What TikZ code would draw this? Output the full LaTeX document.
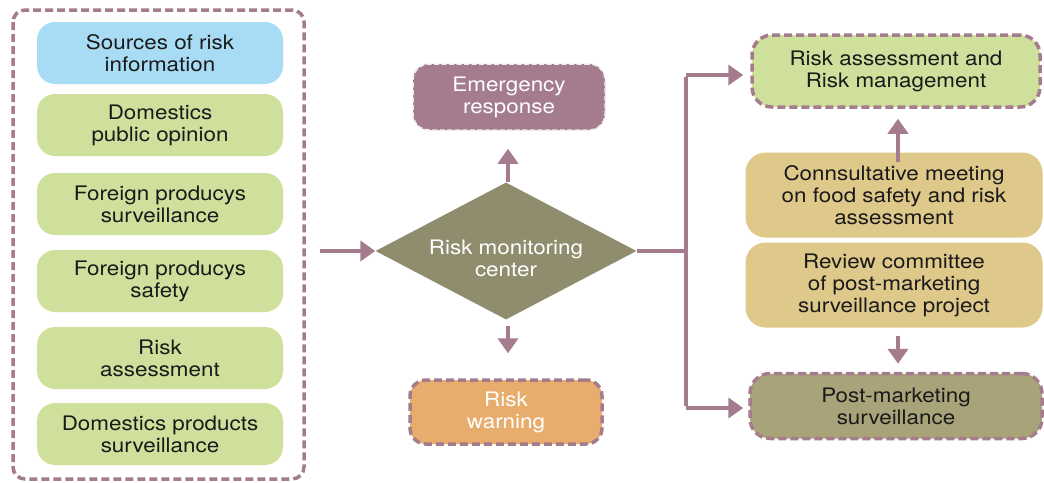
\documentclass[tikz,border=0pt]{standalone}
\usepackage{fontspec}
\setmainfont[FakeStretch=1.12]{TeX Gyre Heros}
\usetikzlibrary{shapes.geometric,arrows.meta}
\definecolor{mauve}{HTML}{A47C8E}
\definecolor{lgreen}{HTML}{CFE09C}
\definecolor{lblue}{HTML}{A8DCF5}
\definecolor{tan}{HTML}{DEC88A}
\definecolor{olive}{HTML}{908D6E}
\definecolor{pmolive}{HTML}{A9A37A}
\definecolor{orng}{HTML}{E8AC6D}
\definecolor{txt}{HTML}{1A1A1A}
\tikzset{
  box/.style={rounded corners=18pt, minimum width=246pt, minimum height=62pt, inner sep=2pt, align=center, text=txt,
    font=\fontsize{20}{22}\selectfont},
  dbox/.style={box, draw=mauve, line width=3.5pt, dash pattern=on 8pt off 4pt},
  arr/.style={draw=mauve, line width=4pt, -{Triangle[width=20pt,length=15pt]}},
  ln/.style={draw=mauve, line width=4pt},
}
\begin{document}
\begin{tikzpicture}[x=1pt,y=-1pt]
\useasboundingbox (0,0) rectangle (1044,482);
% left frame
\draw[mauve, line width=3.5pt, dash pattern=on 8pt off 4pt, rounded corners=12pt] (13,10) rectangle (304,479);
\node[box, fill=lblue] (src) at (160,53) {Sources of risk\\information};
\node[box, fill=lgreen] (dpo) at (160,125) {Domestics\\public opinion};
\node[box, fill=lgreen] (fps) at (160,204) {Foreign producys\\surveillance};
\node[box, fill=lgreen] (fsa) at (160,281) {Foreign producys\\safety};
\node[box, fill=lgreen] (ras) at (160,358) {Risk\\assessment};
\node[box, fill=lgreen] (dps) at (160,434) {Domestics products\\surveillance};
% center
\coordinate (lin) at (320,251);
\node[diamond, fill=olive, minimum width=261pt, minimum height=137pt, aspect=1.9, inner sep=0pt, align=center, text=white,
  font=\fontsize{20}{22}\selectfont] (dia) at (506,251) {};
\node[align=center, text=white, font=\fontsize{20}{22}\selectfont] (dialbl) at (506,258) {Risk monitoring\\center};
\node[box, fill=mauve, draw=white!85!mauve, line width=1.5pt, dash pattern=on 5pt off 2.5pt, text=white,
  minimum width=192pt, minimum height=66pt, rounded corners=16pt] (emer) at (509,97) {Emergency\\response};
\node[dbox, fill=orng, text=white, minimum width=192pt, minimum height=64pt, rounded corners=16pt] (warn) at (506,412) {Risk\\warning};
\draw[arr] (lin) -- (dia.west);
\draw[arr, shorten >=18pt] ([xshift=2pt]dia.north) -- ([xshift=-1pt]emer.south);
\draw[arr, shorten <=6pt, shorten >=25pt] ([xshift=2pt]dia.south) -- ([xshift=2pt]warn.north);
% right
\node[dbox, fill=lgreen, minimum width=288pt, minimum height=72pt, rounded corners=20pt] (ram) at (896,71) {Risk assessment and\\Risk management};
\node[box, fill=tan, minimum width=297pt, minimum height=85pt, rounded corners=20pt] (cons) at (894,195) {Connsultative meeting\\on food safety and risk\\assessment};
\node[box, fill=tan, minimum width=297pt, minimum height=85pt, rounded corners=20pt] (rev) at (894,285) {Review committee\\of post-marketing\\surveillance project};
\node[dbox, fill=pmolive, minimum width=292pt, minimum height=65pt, rounded corners=20pt] (pms) at (896,406) {Post-marketing\\surveillance};
\coordinate (br) at (686,251);
\coordinate (bt) at (686,75);
\coordinate (bb) at (686,408);
\draw[ln] (dia.east) -- (br);
\draw[ln] ([yshift=-2pt]bt) -- ([yshift=2pt]bb);
\draw[arr, shorten >=7pt] (bt) -- (bt -| ram.west);
\draw[arr, shorten >=5pt] (bb) -- (bb -| pms.west);
\draw[arr, shorten <=-10pt, shorten >=10pt] ([xshift=4pt]cons.north) -- ([xshift=2pt]ram.south);
\draw[arr, shorten <=8pt, shorten >=8pt] ([xshift=4pt]rev.south) -- ([xshift=2pt]pms.north);
\end{tikzpicture}
\end{document}
